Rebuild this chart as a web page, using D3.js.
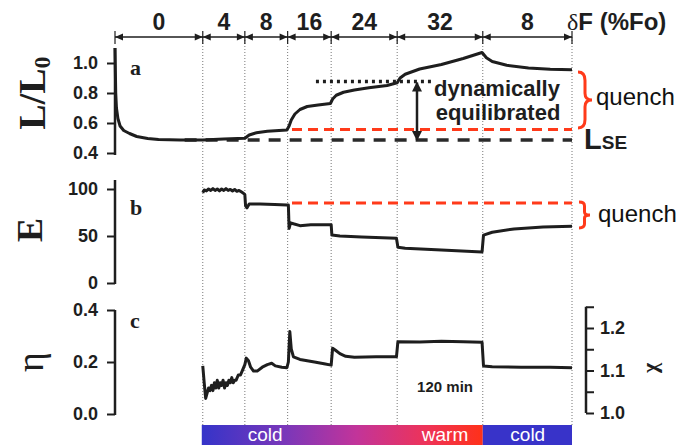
<!DOCTYPE html>
<html><head><meta charset="utf-8">
<script src="https://cdn.jsdelivr.net/npm/d3@7"></script>
<style>
body{margin:0;background:#fff}
svg{display:block;font-family:"Liberation Sans",Arial,sans-serif}
</style></head><body>
<svg width="683" height="445"></svg>
<script>
// segments of the experiment (time in minutes)
var segLabels = ["0", "4", "8", "16", "24", "32", "8"];
var segBounds = [0, 121, 179, 238, 298, 389, 507, 630];

// panel a: L/L0
var lData = [[0,1.10],[1,0.80],[2,0.70],[4,0.63],[7,0.58],[12,0.55],[20,0.53],[30,0.51],[45,0.497],
  [60,0.49],[90,0.486],[121,0.487],[150,0.493],[179,0.498],[185,0.52],[195,0.535],[210,0.545],
  [237,0.553],[240,0.58],[243,0.62],[248,0.66],[255,0.69],[265,0.71],[280,0.72],[297,0.73],
  [300,0.76],[305,0.785],[315,0.805],[330,0.82],[350,0.835],[375,0.85],[389,0.868],[393,0.90],
  [400,0.925],[420,0.96],[450,0.99],[480,1.03],[506,1.07],[512,1.035],[520,1.01],[540,0.985],
  [570,0.967],[600,0.958],[630,0.955]];
var lTicks = [0.4, 0.6, 0.8, 1.0];
var lQuench = 0.557, lSE = 0.487, lDyn = 0.876;

// panel b: E
var eData = [[121,96],[123,99],[126,98],[129,100],[132,98.5],[135,100.5],[138,98.5],[141,100],[144,98],
  [147,100],[150,98.5],[153,100.5],[156,98.5],[159,99.5],[162,98],[165,99.5],[168,97.5],[171,98.5],
  [174,97],[177,95.5],[179,94],[180,82],[182,80],[185,84],[200,84],[220,83.5],[237,83],[239,83],
  [240,58],[242,64],[246,63],[255,61],[270,62],[297,62],[298,62],[299,51],[310,50],[340,49],
  [388,47.5],[390,38],[400,37],[450,35],[506,33],[508,51],[520,54],[550,57.5],[590,59.5],[630,60.5]];
var eTicks = [0, 50, 100];
var eQuench = 85;

// panel c: eta
var etaData = [[121,0.185],[123,0.12],[125,0.06],[127,0.08],[129,0.10],[131,0.09],[133,0.11],[135,0.09],
  [137,0.12],[139,0.10],[141,0.13],[143,0.10],[145,0.12],[147,0.11],[149,0.13],[151,0.10],[153,0.12],
  [155,0.11],[157,0.13],[159,0.12],[161,0.14],[163,0.12],[165,0.13],[167,0.13],[170,0.15],[173,0.15],
  [176,0.17],[179,0.19],[181,0.215],[184,0.205],[187,0.18],[191,0.165],[196,0.165],[203,0.18],
  [210,0.19],[216,0.195],[221,0.185],[230,0.18],[237,0.178],[239,0.20],[241,0.317],[243,0.25],
  [246,0.22],[255,0.21],[265,0.205],[275,0.20],[290,0.192],[298,0.188],[300,0.253],[304,0.245],
  [310,0.232],[318,0.222],[330,0.218],[360,0.22],[388,0.22],[390,0.278],[420,0.277],[450,0.28],
  [480,0.278],[506,0.276],[508,0.185],[520,0.182],[560,0.18],[600,0.18],[630,0.178]];
var etaTicks = [0.0, 0.2, 0.4];
var chiTicks = [1.0, 1.05, 1.1, 1.15, 1.2, 1.25];
var chiLabels = [1.0, 1.1, 1.2];

// temperature bar
var barLabels = ["cold", "warm", "cold"];
var barLabelT = [207, 455, 569];

var svg = d3.select("svg");
var x = d3.scaleLinear().domain([0, 630]).range([115, 572]);
var yA = d3.scaleLinear().domain([0.4, 1.0]).range([153, 63]);
var yB = d3.scaleLinear().domain([0, 100]).range([283, 189]);
var yC = d3.scaleLinear().domain([0, 0.4]).range([414, 310]);
var yX = d3.scaleLinear().domain([1.0, 1.2]).range([413, 328]);

var red = "#ff3a1a", ink = "#1e1e1e";

// gradient for the temperature bar
var defs = svg.append("defs");
var grad = defs.append("linearGradient").attr("id", "temp")
    .attr("x1", "0%").attr("x2", "100%");
[["0%","#3534c9"],["30%","#7b37b9"],["55%","#c2349a"],["80%","#ee3358"],["100%","#ff3119"]]
  .forEach(function(s) { grad.append("stop").attr("offset", s[0]).attr("stop-color", s[1]); });

defs.append("marker").attr("id", "ah").attr("viewBox", "0 -5 10 10")
    .attr("refX", 9).attr("markerWidth", 4).attr("markerHeight", 4)
    .attr("orient", "auto-start-reverse")
  .append("path").attr("d", "M0,-5L10,0L0,5Z").attr("fill", ink);

// dotted boundaries
svg.append("g").selectAll("line").data(segBounds.slice(1)).enter()
  .append("line")
    .attr("x1", function(d) { return x(d); }).attr("x2", function(d) { return x(d); })
    .attr("y1", 37).attr("y2", 425)
    .attr("stroke", "#777").attr("stroke-width", 1).attr("stroke-dasharray", "1,2");

// top bracket
svg.append("line").attr("x1", x(0)).attr("x2", x(630)).attr("y1", 37).attr("y2", 37)
    .attr("stroke", ink).attr("stroke-width", 1.5);
var heads = svg.append("g").attr("fill", ink);
segBounds.forEach(function(b, i) {
  var px = x(b);
  heads.append("line").attr("x1", px).attr("x2", px).attr("y1", 31).attr("y2", 44)
      .attr("stroke", ink).attr("stroke-width", 1.2);
  if (i > 0) heads.append("path").attr("d", "M" + px + ",37L" + (px - 8) + ",33.5L" + (px - 8) + ",40.5Z");
  if (i < segBounds.length - 1) heads.append("path").attr("d", "M" + px + ",37L" + (px + 8) + ",33.5L" + (px + 8) + ",40.5Z");
});
svg.append("g").selectAll("text").data(segLabels).enter()
  .append("text")
    .attr("x", function(d, i) { return x((segBounds[i] + segBounds[i + 1]) / 2); })
    .attr("y", 30).attr("text-anchor", "middle")
    .attr("font-size", 23).attr("font-weight", "bold").attr("fill", ink)
    .text(function(d) { return d; });
var dF = svg.append("text").attr("x", 567).attr("y", 30).attr("font-size", 24)
    .attr("font-weight", "bold").attr("fill", ink);
dF.append("tspan").attr("font-family", "'Liberation Serif',serif").attr("font-weight", "normal").text("δ");
dF.append("tspan").text("F (%Fo)");

// left axes
function leftAxis(scale, ticks, fmt, top, bottom) {
  var g = svg.append("g").attr("transform", "translate(115,0)")
      .call(d3.axisLeft(scale).tickValues(ticks).tickFormat(fmt).tickSize(8).tickPadding(9));
  g.select(".domain").remove();
  g.selectAll(".tick line").attr("stroke", ink).attr("stroke-width", 2);
  g.selectAll(".tick text").attr("font-size", 18).attr("font-weight", "bold")
      .attr("font-family", "'Liberation Sans',Arial,sans-serif").attr("fill", ink);
  g.append("line").attr("y1", top).attr("y2", bottom).attr("stroke", ink).attr("stroke-width", 2.5);
}
leftAxis(yA, lTicks, d3.format(".1f"), 48, 155);
leftAxis(yB, eTicks, d3.format("d"), 180, 284);
leftAxis(yC, etaTicks, d3.format(".1f"), 310, 415);

// right chi axis
var gx = svg.append("g").attr("transform", "translate(586,0)")
    .call(d3.axisRight(yX).tickValues(chiTicks).tickSize(8).tickPadding(6)
      .tickFormat(function(d) { return chiLabels.some(function(c) { return Math.abs(c - d) < 1e-9; }) ? d3.format(".1f")(d) : ""; }));
gx.select(".domain").remove();
gx.selectAll(".tick line").attr("stroke", ink).attr("stroke-width", 2);
gx.selectAll(".tick text").attr("font-size", 18).attr("font-weight", "bold")
    .attr("font-family", "'Liberation Sans',Arial,sans-serif").attr("fill", ink);
gx.append("line").attr("y1", yX(1.25)).attr("y2", yX(1.0)).attr("stroke", ink).attr("stroke-width", 2.5);

// axis titles
var serif = "'Liberation Serif','Times New Roman',serif";
var t1 = svg.append("text").attr("transform", "translate(45,93) rotate(-90)").attr("text-anchor", "middle")
    .attr("font-family", serif).attr("font-weight", "bold").attr("font-size", 38).attr("fill", ink);
t1.append("tspan").text("L/L");
t1.append("tspan").attr("font-size", 24).attr("dy", 5).text("0");
svg.append("text").attr("transform", "translate(42,230) rotate(-90)").attr("text-anchor", "middle")
    .attr("font-family", serif).attr("font-weight", "bold").attr("font-size", 36).attr("fill", ink).text("E");
svg.append("text").attr("transform", "translate(43,362) rotate(-90)").attr("text-anchor", "middle")
    .attr("font-family", serif).attr("font-size", 38).attr("fill", ink).text("η");
svg.append("text").attr("transform", "translate(657,368) rotate(-90)").attr("text-anchor", "middle")
    .attr("font-family", serif).attr("font-weight", "bold").attr("font-size", 22).attr("fill", ink).text("χ");
[["a", 75], ["b", 215], ["c", 328]].forEach(function(p) {
  svg.append("text").attr("x", 130).attr("y", p[1]).attr("font-family", serif)
      .attr("font-weight", "bold").attr("font-size", 22).attr("fill", ink).text(p[0]);
});

// reference lines
function hline(scale, v, t0, color, width, dash) {
  svg.append("line").attr("x1", x(t0)).attr("x2", x(630)).attr("y1", scale(v)).attr("y2", scale(v))
      .attr("stroke", color).attr("stroke-width", width).attr("stroke-dasharray", dash);
}
hline(yA, lSE, 96, "#2a2a2a", 3.5, "12,9");
hline(yA, lQuench, 244, red, 3, "10,6");
hline(yB, eQuench, 244, red, 3, "10,6");
svg.append("line").attr("x1", x(277)).attr("x2", x(437)).attr("y1", yA(lDyn)).attr("y2", yA(lDyn))
    .attr("stroke", ink).attr("stroke-width", 3.5).attr("stroke-dasharray", "3,4");

// data curves
function curve(data, scale) {
  svg.append("path").datum(data)
      .attr("d", d3.line().x(function(d) { return x(d[0]); }).y(function(d) { return scale(d[1]); }))
      .attr("fill", "none").attr("stroke", ink).attr("stroke-width", 3)
      .attr("stroke-linejoin", "round");
}
curve(lData, yA);
curve(eData, yB);
curve(etaData, yC);

// double arrow between lSE and dynamic level
svg.append("line").attr("x1", 417).attr("x2", 417).attr("y1", yA(lDyn) + 1).attr("y2", yA(lSE))
    .attr("stroke", ink).attr("stroke-width", 2.5)
    .attr("marker-start", "url(#ah)").attr("marker-end", "url(#ah)");

// annotations
svg.append("text").attr("x", 497).attr("y", 96).attr("text-anchor", "middle").attr("font-size", 22)
    .attr("font-weight", "bold").attr("fill", ink).text("dynamically");
svg.append("text").attr("x", 498).attr("y", 120).attr("text-anchor", "middle").attr("font-size", 22)
    .attr("font-weight", "bold").attr("fill", ink).text("equilibrated");
var lse = svg.append("text").attr("x", 584).attr("y", 149).attr("font-weight", "bold").attr("fill", ink);
lse.append("tspan").attr("font-size", 29).text("L");
lse.append("tspan").attr("font-size", 19).text("SE");

function brace(x0, y0, y1, w) {
  var ym = (y0 + y1) / 2, h = y1 - y0, xm = x0 + w / 2;
  return "M" + x0 + "," + y0 + "Q" + xm + "," + y0 + " " + xm + "," + (y0 + h * 0.15) +
    "L" + xm + "," + (ym - h * 0.12) + "Q" + xm + "," + ym + " " + (x0 + w) + "," + ym +
    "Q" + xm + "," + ym + " " + xm + "," + (ym + h * 0.12) +
    "L" + xm + "," + (y1 - h * 0.15) + "Q" + xm + "," + y1 + " " + x0 + "," + y1;
}
svg.append("path").attr("d", brace(578, 72, 128, 14)).attr("fill", "none").attr("stroke", red).attr("stroke-width", 3);
svg.append("path").attr("d", brace(579, 202, 228, 11)).attr("fill", "none").attr("stroke", red).attr("stroke-width", 3);
svg.append("text").attr("x", 596).attr("y", 105).attr("font-size", 24).attr("fill", "#111").text("quench");
svg.append("text").attr("x", 598).attr("y", 222).attr("font-size", 24).attr("fill", "#111").text("quench");

svg.append("text").attr("x", x(455)).attr("y", 392).attr("text-anchor", "middle").attr("font-size", 15)
    .attr("font-weight", "bold").attr("fill", ink).text("120 min");

// temperature bar
svg.append("rect").attr("x", x(segBounds[1]) - 1).attr("y", 425)
    .attr("width", x(segBounds[6]) - x(segBounds[1]) + 1).attr("height", 20).attr("fill", "url(#temp)");
svg.append("rect").attr("x", x(segBounds[6])).attr("y", 425)
    .attr("width", x(segBounds[7]) - x(segBounds[6])).attr("height", 20).attr("fill", "#3833c9");
svg.append("g").selectAll("text").data(barLabels).enter()
  .append("text")
    .attr("x", function(d, i) { return x(barLabelT[i]); }).attr("y", 441)
    .attr("text-anchor", "middle").attr("font-size", 19).attr("fill", "#fff")
    .text(function(d) { return d; });
</script>
</body></html>
